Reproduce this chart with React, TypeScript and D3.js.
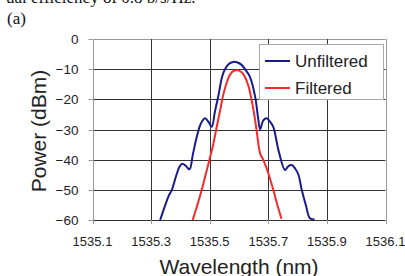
import React, { useEffect, useRef } from 'react';
import * as d3 from 'd3';

const unfilteredWl = [1535.331, 1535.345, 1535.36, 1535.371, 1535.385, 1535.396, 1535.405, 1535.418, 1535.431, 1535.443, 1535.456, 1535.47, 1535.484, 1535.496, 1535.507, 1535.518, 1535.529, 1535.546, 1535.565, 1535.58, 1535.593, 1535.608, 1535.623, 1535.637, 1535.655, 1535.665, 1535.672, 1535.683, 1535.694, 1535.705, 1535.717, 1535.735, 1535.757, 1535.768, 1535.78, 1535.792, 1535.803, 1535.814, 1535.828, 1535.842, 1535.858];
const unfilteredDb = [-60, -56, -52, -50, -45.5, -42.5, -41.4, -42, -43.2, -38, -32.4, -28, -26.3, -27.5, -29.1, -24, -19.1, -11.4, -8.3, -7.6, -7.7, -8.5, -10.3, -12.5, -19.1, -26, -29.9, -27, -26.3, -27.3, -29.1, -37, -43.4, -42.2, -41.8, -43, -45, -50, -55, -59.4, -59.8];

const filteredWl = [1535.442, 1535.458, 1535.473, 1535.486, 1535.499, 1535.512, 1535.524, 1535.536, 1535.546, 1535.558, 1535.569, 1535.582, 1535.596, 1535.609, 1535.62, 1535.632, 1535.643, 1535.652, 1535.66, 1535.672, 1535.683, 1535.7, 1535.717, 1535.731, 1535.745];
const filteredDb = [-60, -55, -50, -45, -40.1, -35, -29.1, -23.5, -18.6, -14.5, -11.9, -10.6, -10.4, -11, -12.5, -15.5, -20.2, -25, -30.2, -37.9, -40.1, -44.5, -50, -55, -59.6];

const xTicks = [1535.1, 1535.3, 1535.5, 1535.7, 1535.9, 1536.1];
const yTicks = [0, -10, -20, -30, -40, -50, -60];
const seriesNames = ['Unfiltered', 'Filtered'];
const seriesColors = ['#1a1a8a', '#f52a2a'];

const W = 405;
const H = 276;
const plot = { left: 92.5, right: 385.5, top: 39, bottom: 220 };

export default function App() {
  const ref = useRef<SVGSVGElement | null>(null);

  useEffect(() => {
    const svg = d3.select(ref.current);
    svg.selectAll('*').remove();

    const x = d3.scaleLinear().domain([1535.1, 1536.1]).range([plot.left, plot.right]);
    const y = d3.scaleLinear().domain([-60, 0]).range([plot.bottom, plot.top]);

    svg.append('rect').attr('width', W).attr('height', H).attr('fill', '#fff');

    const serif = '"Liberation Serif", "Times New Roman", serif';
    // caption line cut off at the top, and panel label
    svg.append('text')
      .attr('x', 6).attr('y', 3)
      .style('font-family', serif)
      .style('font-size', '17px')
      .attr('fill', '#111')
      .text('ual efficiency of 0.8 b/s/Hz.');
    svg.append('text')
      .attr('x', 7).attr('y', 24)
      .style('font-family', serif)
      .style('font-size', '17px')
      .attr('fill', '#111')
      .text('(a)');

    const g = svg.append('g');

    // grid
    g.selectAll('line.hg').data(yTicks).enter().append('line')
      .attr('x1', plot.left).attr('x2', plot.right)
      .attr('y1', d => Math.round(y(d)) + 0.5).attr('y2', d => Math.round(y(d)) + 0.5)
      .attr('stroke', d => (d === 0 ? '#999' : '#333')).attr('stroke-width', 1);
    g.selectAll('line.vg').data(xTicks).enter().append('line')
      .attr('y1', plot.top).attr('y2', plot.bottom)
      .attr('x1', d => Math.round(x(d)) + 0.5).attr('x2', d => Math.round(x(d)) + 0.5)
      .attr('stroke', (d, i) => (i === 0 || i === xTicks.length - 1 ? '#999' : '#333')).attr('stroke-width', 1);

    // tick marks
    g.selectAll('line.yt').data(yTicks).enter().append('line')
      .attr('x1', plot.left - 4).attr('x2', plot.left)
      .attr('y1', d => Math.round(y(d)) + 0.5).attr('y2', d => Math.round(y(d)) + 0.5)
      .attr('stroke', '#999');
    g.selectAll('line.xt').data(xTicks).enter().append('line')
      .attr('y1', plot.bottom).attr('y2', plot.bottom + 4)
      .attr('x1', d => Math.round(x(d)) + 0.5).attr('x2', d => Math.round(x(d)) + 0.5)
      .attr('stroke', '#999');

    const font = 'Arial, "Liberation Sans", Helvetica, sans-serif';

    g.selectAll('text.yl').data(yTicks).enter().append('text')
      .attr('x', plot.left - 14).attr('y', d => y(d) + 5)
      .attr('text-anchor', 'end')
      .style('font-family', font).style('font-size', '13.5px').attr('fill', '#222')
      .text(d => d3.format('d')(d));
    g.selectAll('text.xl').data(xTicks).enter().append('text')
      .attr('x', d => x(d)).attr('y', plot.bottom + 26)
      .attr('text-anchor', 'middle')
      .style('font-family', font).style('font-size', '13px').attr('fill', '#222')
      .text(d => d3.format('.1f')(d));

    svg.append('text')
      .attr('x', 239).attr('y', 274)
      .attr('text-anchor', 'middle')
      .style('font-family', font).style('font-size', '21px').attr('fill', '#222')
      .text('Wavelength (nm)');
    svg.append('text')
      .attr('transform', `translate(46,131) rotate(-90)`)
      .attr('text-anchor', 'middle')
      .style('font-family', font).style('font-size', '21px').attr('fill', '#222')
      .text('Power (dBm)');

    // curves
    const line = d3.line<[number, number]>()
      .x(d => x(d[0]))
      .y(d => y(d[1]))
      .curve(d3.curveCatmullRom.alpha(0.5));

    const series = [
      d3.zip(unfilteredWl, unfilteredDb) as [number, number][],
      d3.zip(filteredWl, filteredDb) as [number, number][],
    ];
    series.forEach((s, i) => {
      g.append('path')
        .attr('d', line(s))
        .attr('fill', 'none')
        .attr('stroke', seriesColors[i])
        .attr('stroke-width', 2)
        .attr('stroke-linejoin', 'round');
    });

    // legend
    const lg = svg.append('g').attr('transform', 'translate(259,44)');
    lg.append('rect')
      .attr('x', 0.5).attr('y', 0.5).attr('width', 124).attr('height', 55)
      .attr('fill', '#fff').attr('stroke', '#aaa');
    seriesNames.forEach((name, i) => {
      const ly = 17 + i * 27;
      lg.append('line')
        .attr('x1', 6).attr('x2', 31).attr('y1', ly).attr('y2', ly)
        .attr('stroke', seriesColors[i]).attr('stroke-width', 2);
      lg.append('text')
        .attr('x', 36).attr('y', ly + 6)
        .style('font-family', font).style('font-size', '17px').attr('fill', '#222')
        .text(name);
    });
  }, []);

  return (
    <svg ref={ref} width={W} height={H} style={{ position: 'absolute', left: 0, top: 0, display: 'block' }} />
  );
}
